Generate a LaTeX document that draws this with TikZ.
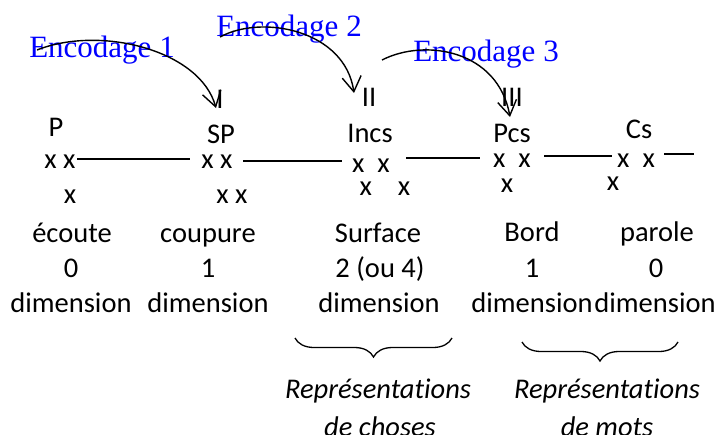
\documentclass[tikz,border=0pt]{standalone}
\usepackage{fontspec}
\setmainfont[Ligatures=CommonOff,RawFeature={-liga;-clig;-calt;-dlig}]{Carlito}
\newfontfamily\encfont{Liberation Serif}
\usetikzlibrary{arrows.meta,decorations.pathreplacing}
\definecolor{encblue}{RGB}{0,0,255}

\begin{document}
\begin{tikzpicture}[x=1pt,y=-1pt,
  lbl/.style={inner sep=0pt, anchor=base, font={\fontsize{28.5}{34}\selectfont}},
  rep/.style={inner sep=0pt, anchor=base, font={\itshape\fontsize{28.5}{34}\selectfont}},
  enc/.style={inner sep=0pt, anchor=base, text=encblue, font={\encfont\fontsize{31}{36}\selectfont}},
  link/.style={line width=1.5pt},
  encarrow/.style={line width=1.4pt, -{Straight Barb[length=15pt,width=19pt]}},
  group/.style={line width=1.3pt, decorate, decoration={brace, mirror, amplitude=19pt}}
]
\path[use as bounding box, fill=white] (0,0) rectangle (720,434);

% encoding labels
\node[enc] (enc1) at (102,57) {Encodage 1};
\node[enc] (enc2) at (289,36) {Encodage 2};
\node[enc] (enc3) at (486,61) {Encodage 3};

% roman numerals
\node[lbl] (r1) at (220,108) {I};
\node[lbl] (r2) at (369,106) {II};
\node[lbl] (r3) at (512,106) {III};

% headers
\node[lbl] (hP) at (56,136) {P};
\node[lbl] (hSP) at (221,143) {SP};
\node[lbl] (hIncs) at (370,142) {Incs};
\node[lbl] (hPcs) at (512,142) {Pcs};
\node[lbl] (hCs) at (639,138) {Cs};

% point marks
\node[lbl] (xa1) at (60,168) {x x};
\node[lbl] (xa2) at (70,203) {x};
\node[lbl] (xb1) at (217,168) {x x};
\node[lbl] (xb2) at (232,203) {x x};
\node[lbl] (xc1) at (371,172) {x\hspace{13pt}x};
\node[lbl] (xc2) at (385,195) {x\hspace{26pt}x};
\node[lbl] (xd1) at (512,167) {x\hspace{13pt}x};
\node[lbl] (xd2) at (507,192) {x};
\node[lbl] (xe1) at (636,167) {x\hspace{13pt}x};
\node[lbl] (xe2) at (613,190) {x};

% links between the stages
\coordinate (tail) at (694,154);
\draw[link] ([shift={(1.5,-9)}]xa1.base east) -- ([shift={(-11.5,-9)}]xb1.base west);
\draw[link] ([shift={(10.5,-7)}]xb1.base east) -- ([shift={(-10,-11)}]xc1.base west);
\draw[link] ([shift={(16,-14)}]xc1.base east) -- ([shift={(-13,-9)}]xd1.base west);
\draw[link] ([shift={(13,-11)}]xd1.base east) -- ([shift={(-5,-11)}]xe1.base west);
\draw[link] ([shift={(9,-13)}]xe1.base east) -- (tail);

% encoding arrows
\coordinate (a1) at (37,50);
\coordinate (a2) at (220,37);
\coordinate (a3) at (382,60);
\draw[encarrow] (a1) .. controls (100,25) and (200,50) .. ([shift={(-4,0)}]r1.base);
\draw[encarrow] (a2) .. controls (262,14) and (345,30) .. ([shift={(-15,-13)}]r2.base);
\draw[encarrow] (a3) .. controls (425,38) and (498,50) .. ([shift={(-2,11)}]r3.base);

% names and dimensions
\node[lbl] (c1a) at (72,242) {écoute};
\node[lbl] (c1b) at (71,277) {0};
\node[lbl] (c1c) at (71,312) {dimension};
\node[lbl] (c2a) at (208,242) {coupure};
\node[lbl] (c2b) at (208,277) {1};
\node[lbl] (c2c) at (208,312) {dimension};
\node[lbl] (c3a) at (378,242) {Surface};
\node[lbl] (c3b) at (380,277) {2 (ou 4)};
\node[lbl] (c3c) at (379,312) {dimension};
\node[lbl] (c4a) at (532,241) {Bord};
\node[lbl] (c4b) at (532,277) {1};
\node[lbl] (c4c) at (532,312) {dimension};
\node[lbl] (c5a) at (657,241) {parole};
\node[lbl] (c5b) at (656,277) {0};
\node[lbl] (c5c) at (655,312) {dimension};

% groupings
\draw[group] (295,338) -- (452,338);
\draw[group] (522,342) -- (678,342);
\node[rep] (rc1) at (378,398) {Représentations};
\node[rep] (rc2) at (380,436) {de choses};
\node[rep] (rm1) at (607,398) {Représentations};
\node[rep] (rm2) at (607,436) {de mots};
\end{tikzpicture}
\end{document}
